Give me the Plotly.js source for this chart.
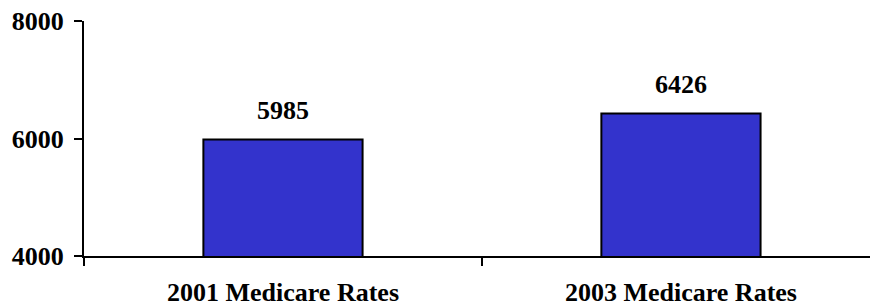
<!DOCTYPE html>
<html>
<head>
<meta charset="utf-8">
<script src="https://cdn.plot.ly/plotly-3.0.1.min.js"></script>
<style>html,body{margin:0;padding:0;background:#fff;}#chart{width:870px;height:308px;}</style>
</head>
<body>
<div id="chart"></div>
<script>
const categories = ["2001 Medicare Rates", "2003 Medicare Rates"];
const rates = [5985, 6426];
const yTicks = [4000, 6000, 8000];

const fam = "'Liberation Serif', 'Times New Roman', Times, serif";
const font = {family: fam, size: 26, color: "#000", weight: "bold"};

const trace = {
  type: "bar",
  x: categories,
  y: rates,
  width: 0.4,
  marker: {color: "#3333CC", line: {color: "#000", width: 2}},
  hoverinfo: "none"
};

const annotations = categories.map((c, i) => ({
  x: c, y: rates[i], xref: "x", yref: "y",
  text: String(rates[i]), showarrow: false,
  yanchor: "bottom", yshift: 12, font: font
}));

const layout = {
  width: 870, height: 308,
  margin: {l: 84, r: 0, t: 21, b: 52},
  paper_bgcolor: "#fff", plot_bgcolor: "#fff",
  showlegend: false,
  font: font,
  xaxis: {
    type: "category",
    range: [-0.5, 1.475],
    showline: true, linecolor: "#000", linewidth: 2,
    ticks: "outside", tickson: "boundaries", ticklen: 8, tickwidth: 2, tickcolor: "#000",
    showgrid: false, zeroline: false,
    tickfont: font,
    ticklabelstandoff: 12
  },
  yaxis: {
    range: [4000, 8000],
    tickvals: yTicks, ticktext: yTicks.map(String),
    showline: true, linecolor: "#000", linewidth: 2,
    ticks: "outside", ticklen: 8, tickwidth: 2, tickcolor: "#000",
    showgrid: false, zeroline: false,
    tickfont: font,
    ticklabelstandoff: 5
  },
  annotations: annotations
};

Plotly.newPlot("chart", [trace], layout, {staticPlot: true, displayModeBar: false});
</script>
</body>
</html>
